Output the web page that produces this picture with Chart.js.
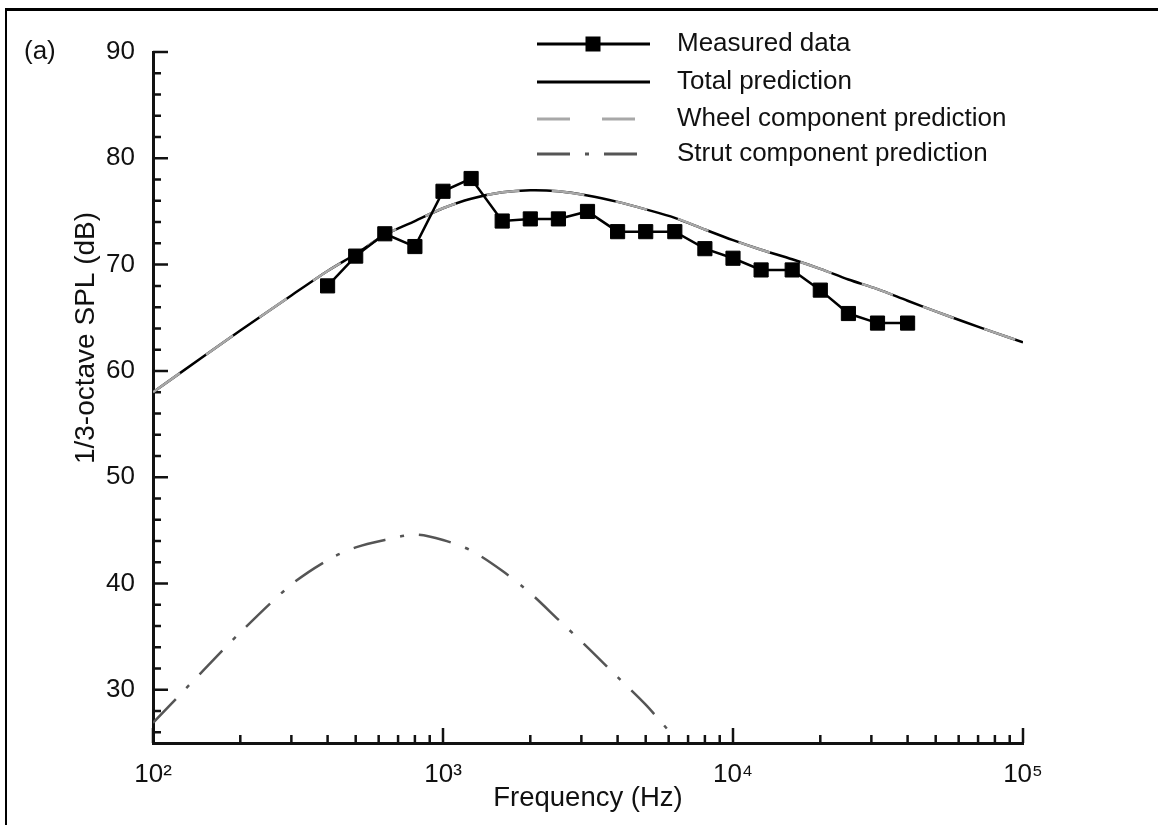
<!DOCTYPE html>
<html>
<head>
<meta charset="utf-8">
<script src="https://cdn.jsdelivr.net/npm/chart.js@4.4.1/dist/chart.umd.min.js"></script>
<style>
html, body { margin: 0; padding: 0; background: #fff; }
#caja { position: relative; width: 1158px; height: 825px; overflow: hidden; }
#marco { position: absolute; left: 5px; top: 8px; right: -10px; bottom: -10px; border-top: 3px solid #000; border-left: 2px solid #000; }
canvas { position: absolute; left: 0; top: 0; }
</style>
</head>
<body>
<div id="caja">
  <div id="marco"></div>
  <canvas id="grafica" width="1158" height="825"></canvas>
</div>
<script>
// medidas en tercios de octava
const frecMedidas = [400, 500, 630, 800, 1000, 1250, 1600, 2000, 2500, 3150, 4000, 5000, 6300, 8000, 10000, 12500, 16000, 20000, 25000, 31500, 40000];
const splMedido = [68.0, 70.8, 72.9, 71.7, 76.9, 78.1, 74.1, 74.3, 74.3, 75.0, 73.1, 73.1, 73.1, 71.5, 70.6, 69.5, 69.5, 67.6, 65.4, 64.5, 64.5];

// predicciones (curvas)
const frecPrediccion = [100, 150, 200, 300, 400, 500, 630, 800, 1000, 1250, 1600, 2000, 2500, 3150, 4000, 5000, 6300, 8000, 10000, 12500, 16000, 20000, 25000, 31500, 40000, 50000, 63000, 80000, 100000];
const splTotal = [58.0, 61.4, 63.8, 67.1, 69.4, 71.0, 72.8, 74.1, 75.3, 76.2, 76.8, 77.0, 76.9, 76.5, 75.9, 75.2, 74.4, 73.3, 72.3, 71.4, 70.5, 69.6, 68.6, 67.7, 66.6, 65.6, 64.6, 63.6, 62.7];
const splRueda = [58.0, 61.4, 63.8, 67.1, 69.4, 71.0, 72.8, 74.1, 75.3, 76.2, 76.8, 77.0, 76.9, 76.5, 75.9, 75.2, 74.4, 73.3, 72.3, 71.4, 70.5, 69.6, 68.6, 67.7, 66.6, 65.6, 64.6, 63.6, 62.7];

const frecPuntal = [100, 150, 200, 300, 400, 500, 630, 800, 1000, 1250, 1600, 2000, 2500, 3150, 4000, 5000, 6300];
const splPuntal = [26.9, 31.9, 35.4, 39.9, 42.2, 43.4, 44.1, 44.6, 44.1, 43.1, 41.2, 39.1, 36.6, 34.0, 31.2, 28.6, 25.5];

// ejes
const ticksY = [30, 40, 50, 60, 70, 80, 90];
const ticksX = [100, 1000, 10000, 100000];
const nombresLeyenda = ['Measured data', 'Total prediction', 'Wheel component prediction', 'Strut component prediction'];

const fuente = "'Liberation Sans', Arial, Helvetica, sans-serif";
const sup = ['\u2070', '\u00b9', '\u00b2', '\u00b3', '\u2074', '\u2075'];

function pares(xs, ys) {
  return xs.map((f, i) => ({ x: f, y: ys[i] }));
}

// marcas hacia dentro, leyenda y textos sueltos
const extras = {
  id: 'extras',
  beforeDatasetsDraw(chart) {
    const { ctx, chartArea: a, scales: { x, y } } = chart;
    ctx.save();
    ctx.strokeStyle = '#111';
    ctx.lineWidth = 2.5;
    ctx.beginPath();
    for (let v = 26; v <= 90; v += 2) {
      const py = y.getPixelForValue(v);
      const largo = v % 10 === 0 ? 15 : 8;
      ctx.moveTo(a.left, py);
      ctx.lineTo(a.left + largo, py);
    }
    for (let d = 100; d <= 100000; d *= 10) {
      for (let m = 1; m <= 9; m++) {
        const v = m * d;
        if (v > 100000) break;
        const px = x.getPixelForValue(v);
        const largo = m === 1 ? 15 : 8;
        ctx.moveTo(px, a.bottom);
        ctx.lineTo(px, a.bottom - largo);
      }
    }
    ctx.stroke();
    ctx.restore();
  },
  afterDraw(chart) {
    const ctx = chart.ctx;
    ctx.save();
    ctx.fillStyle = '#111';
    ctx.font = '26px ' + fuente;
    ctx.textBaseline = 'middle';
    ctx.textAlign = 'left';
    ctx.fillText('(a)', 24, 52);

    // titulo eje y
    ctx.save();
    ctx.font = '28px ' + fuente;
    ctx.translate(86, 338);
    ctx.rotate(-Math.PI / 2);
    ctx.textAlign = 'center';
    ctx.fillText('1/3-octave SPL (dB)', 0, 0);
    ctx.restore();

    // leyenda
    const filas = [44, 82, 119, 154];
    nombresLeyenda.forEach((nombre, i) => {
      const ds = chart.data.datasets.find(d => d.label === nombre);
      const fy = filas[i];
      ctx.save();
      ctx.strokeStyle = ds.borderColor;
      ctx.lineWidth = 3;
      ctx.setLineDash(ds.borderDash || []);
      ctx.beginPath();
      ctx.moveTo(537, fy);
      ctx.lineTo(650, fy);
      ctx.stroke();
      ctx.restore();
      if (ds.pointRadius > 0) {
        ctx.fillStyle = '#000';
        ctx.fillRect(593 - 7.5, fy - 7.5, 15, 15);
      }
      ctx.fillStyle = '#111';
      ctx.fillText(nombre, 677, fy);
    });
    ctx.restore();
  }
};

Chart.defaults.font.family = fuente;
Chart.defaults.color = '#111';

const hoja = document.getElementById('grafica').getContext('2d');
new Chart(hoja, {
  type: 'scatter',
  data: {
    datasets: [
      {
        label: 'Measured data',
        data: pares(frecMedidas, splMedido),
        showLine: true,
        borderColor: '#000',
        backgroundColor: '#000',
        borderWidth: 2.5,
        pointStyle: 'rect',
        pointRadius: 10,
        pointBorderWidth: 1,
        pointBorderColor: '#000',
        tension: 0,
        order: 0
      },
      {
        label: 'Wheel component prediction',
        data: pares(frecPrediccion, splRueda),
        showLine: true,
        borderColor: '#a8a8a8',
        borderWidth: 2.5,
        borderDash: [33, 32],
        pointRadius: 0,
        tension: 0.3,
        order: 1
      },
      {
        label: 'Total prediction',
        data: pares(frecPrediccion, splTotal),
        showLine: true,
        borderColor: '#000',
        borderWidth: 2.5,
        pointRadius: 0,
        tension: 0.3,
        order: 2
      },
      {
        label: 'Strut component prediction',
        data: pares(frecPuntal, splPuntal),
        showLine: true,
        borderColor: '#555',
        borderWidth: 2.5,
        borderDash: [33, 15, 4, 15],
        pointRadius: 0,
        tension: 0.3,
        order: 3
      }
    ]
  },
  options: {
    responsive: false,
    animation: false,
    events: [],
    layout: { padding: { left: 0, top: 52, right: 135, bottom: 6 } },
    plugins: {
      legend: { display: false },
      tooltip: { enabled: false }
    },
    scales: {
      x: {
        type: 'logarithmic',
        min: 100,
        max: 100000,
        afterBuildTicks: s => { s.ticks = ticksX.map(v => ({ value: v })); },
        afterFit: s => { s.height = 76; },
        grid: { display: false },
        border: { display: true, color: '#111', width: 3 },
        ticks: {
          autoSkip: false,
          maxRotation: 0,
          padding: 8,
          font: { size: 26 },
          callback: v => '10' + sup[Math.round(Math.log10(v))]
        },
        title: { display: true, text: 'Frequency (Hz)', font: { size: 27.5 }, padding: { top: 0, bottom: 4 } }
      },
      y: {
        min: 25,
        max: 90,
        afterBuildTicks: s => { s.ticks = ticksY.map(v => ({ value: v })); },
        afterFit: s => { s.width = 153; },
        grid: { display: false },
        border: { display: true, color: '#111', width: 3 },
        ticks: { padding: 10, font: { size: 26 } }
      }
    }
  },
  plugins: [extras]
});
</script>
</body>
</html>
